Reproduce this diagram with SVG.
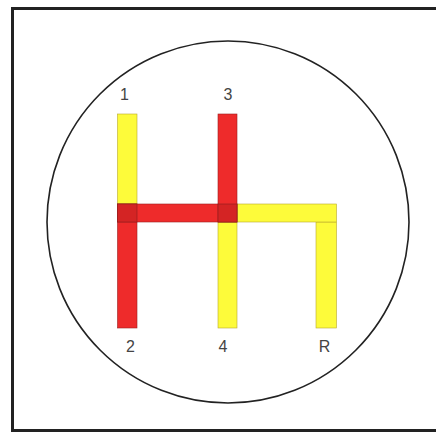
<svg xmlns="http://www.w3.org/2000/svg" width="436" height="434" viewBox="0 0 436 434">
<style>
.y{fill:#fdfb3a;stroke:#b8a830;stroke-width:0.6}
.r{fill:#ee2b2b;stroke:#9a2020;stroke-width:0.6}
.d{fill:#d42424;stroke:#8a1c1c;stroke-width:0.6}
.lbl{font-family:"Liberation Sans",Arial,sans-serif;font-size:16px;fill:#444;text-anchor:middle}
</style>
<rect width="436" height="434" fill="#fff"/>
<rect x="12.5" y="8.5" width="432" height="422" fill="none" stroke="#222" stroke-width="3"/>
<circle cx="228" cy="222" r="181" fill="none" stroke="#222" stroke-width="1.6"/>
<g id="gate">
<rect class="y" x="117.5" y="114" width="19.5" height="90"/>
<rect class="r" x="117.5" y="204" width="19.5" height="124"/>
<rect class="y" x="218" y="222" width="19" height="106"/>
<rect class="y" x="316" y="222" width="20.5" height="106"/>
<rect class="y" x="237" y="204" width="99.5" height="18"/>
<rect class="r" x="117.5" y="204" width="119.5" height="18"/>
<rect class="r" x="218" y="114" width="19" height="108"/>
<rect class="d" x="117.5" y="204" width="19.5" height="18"/>
<rect class="d" x="218" y="204" width="19" height="18"/>
</g>
<g id="labels">
<text class="lbl" x="124.5" y="100">1</text>
<text class="lbl" x="228" y="100">3</text>
<text class="lbl" x="130.5" y="352">2</text>
<text class="lbl" x="223" y="352">4</text>
<text class="lbl" x="324.5" y="352">R</text>
</g>
</svg>
